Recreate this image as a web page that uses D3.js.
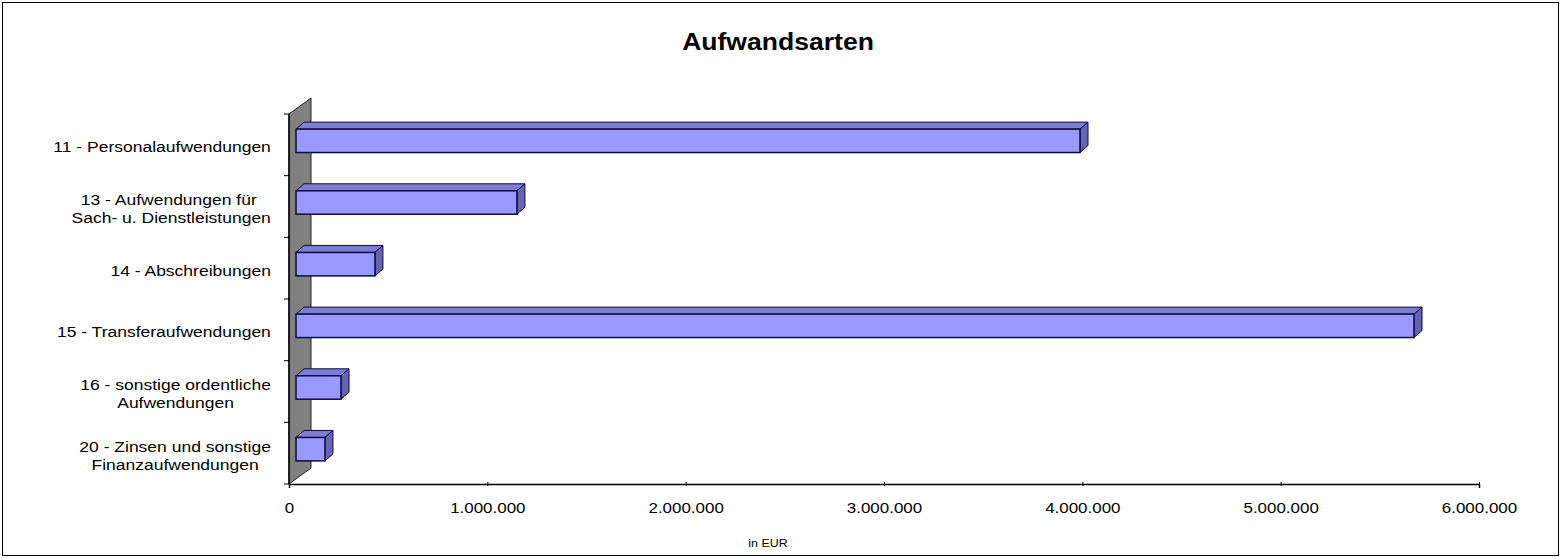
<!DOCTYPE html>
<html>
<head>
<meta charset="utf-8">
<script src="https://cdn.jsdelivr.net/npm/d3@7"></script>
<style>
  body { margin: 0; background: #fff; }
  text { font-family: "Liberation Sans", Arial, sans-serif; fill: #000; }
</style>
</head>
<body>
<svg id="chart" width="1562" height="559"></svg>
<script>
// chart data
var categories = [
    ["11 - Personalaufwendungen"],
    ["13 - Aufwendungen für ", "Sach- u. Dienstleistungen"],
    ["14 - Abschreibungen"],
    ["15 - Transferaufwendungen"],
    ["16 - sonstige ordentliche", "Aufwendungen"],
    ["20 - Zinsen und sonstige", "Finanzaufwendungen"]
];
var values = [3953000, 1114000, 398000, 5637000, 227000, 146000];
var xTicks = [0, 1000000, 2000000, 3000000, 4000000, 5000000, 6000000];

var svg = d3.select("#chart");
var de = d3.formatLocale({decimal: ",", thousands: ".", grouping: [3], currency: ["", " €"]});
var fmt = de.format(",");
// the original text is a bit wider than Arial
var sx = 1.13;

// outer frame
svg.append("rect")
    .attr("x", 2.5).attr("y", 2.5)
    .attr("width", 1556).attr("height", 553)
    .attr("fill", "#fff")
    .attr("stroke", "#000")
    .attr("stroke-width", 1);

// title
svg.append("text")
    .attr("transform", "translate(778,50) scale(" + sx + ",1)")
    .attr("text-anchor", "middle")
    .style("font-size", "23.5px")
    .style("font-weight", "bold")
    .text("Aufwandsarten");

// scales
var keys = categories.map(function(d, i) { return i; });
var x = d3.scaleLinear().domain([0, 6000000]).range([289, 1479]);
var yAxisBand = d3.scaleBand().domain(keys).range([114, 484]);
var y = d3.scaleBand().domain(keys).range([114, 484])
    .paddingInner(0.62).paddingOuter(0.31);

// 3d offsets
var wallDx = 22, wallDy = -16;
var barOx = 7, barOy = -4;
var depthX = 8, depthY = -7;

// back wall (grey)
svg.append("polygon")
    .attr("points", [
        [x(0), 484], [x(0), 114], [x(0) + wallDx, 114 + wallDy], [x(0) + wallDx, 484 + wallDy]
    ].join(" "))
    .attr("fill", "#808080")
    .attr("stroke", "#222")
    .attr("stroke-width", 1);

// y axis line + ticks at band boundaries
var yTickPos = keys.map(function(k) { return yAxisBand(k); }).concat([484]);
svg.append("line")
    .attr("x1", x(0)).attr("x2", x(0))
    .attr("y1", 114).attr("y2", 484)
    .attr("stroke", "#000").attr("stroke-width", 1.5);
svg.selectAll(".ytick").data(yTickPos).enter().append("line")
    .attr("class", "ytick")
    .attr("x1", x(0) - 5).attr("x2", x(0))
    .attr("y1", function(d) { return d; })
    .attr("y2", function(d) { return d; })
    .attr("stroke", "#000");

// x axis
var xAxis = d3.axisBottom(x).tickValues(xTicks).tickFormat(fmt).tickSize(4).tickPadding(14);
var gX = svg.append("g").attr("transform", "translate(0,484)").call(xAxis);
gX.select(".domain").attr("stroke", "#000").attr("stroke-width", 1.5);
gX.selectAll(".tick line").attr("stroke", "#000").attr("transform", "translate(0,-2)");
gX.selectAll(".tick text")
    .style("font-size", "15px")
    .attr("fill", "#000")
    .attr("transform", "scale(" + sx + ",1)");

svg.append("text")
    .attr("transform", "translate(768,547) scale(" + sx + ",1)")
    .attr("text-anchor", "middle")
    .style("font-size", "11px")
    .text("in EUR");

// bars
var bars = svg.selectAll(".bar").data(values).enter().append("g").attr("class", "bar");
bars.each(function(v, i) {
    var g = d3.select(this);
    var xl = x(0) + barOx, xr = x(v) + barOx;
    var yt = y(i) + barOy, yb = yt + y.bandwidth();
    // top face
    g.append("polygon")
        .attr("points", [[xl, yt], [xl + depthX, yt + depthY], [xr + depthX, yt + depthY], [xr, yt]].join(" "))
        .attr("fill", "#7d7dd6").attr("stroke", "#0d0d40").attr("stroke-width", 1)
        .attr("stroke-linejoin", "round");
    // side face
    g.append("polygon")
        .attr("points", [[xr, yt], [xr + depthX, yt + depthY], [xr + depthX, yb + depthY], [xr, yb]].join(" "))
        .attr("fill", "#6464b0").attr("stroke", "#0d0d40").attr("stroke-width", 1)
        .attr("stroke-linejoin", "round");
    // front face
    g.append("rect")
        .attr("x", xl).attr("y", yt)
        .attr("width", xr - xl).attr("height", yb - yt)
        .attr("fill", "#9999ff").attr("stroke", "#0d0d40").attr("stroke-width", 1.5);
});

// category labels, centred block, right edge at 271
var labels = svg.selectAll(".cat").data(categories).enter().append("text")
    .attr("class", "cat")
    .style("font-size", "15.5px")
    .attr("text-anchor", "middle");
labels.each(function(lines, i) {
    var t = d3.select(this);
    var cy = yAxisBand(i) + yAxisBand.bandwidth() / 2;
    var y0 = cy + 7.5 - (lines.length - 1) * 9;
    lines.forEach(function(l, j) {
        t.append("tspan").attr("x", 0).attr("y", y0 + j * 18).text(l);
    });
    var w = 0;
    t.selectAll("tspan").each(function() { w = Math.max(w, this.getComputedTextLength()); });
    t.attr("transform", "translate(" + (271 - w * sx / 2) + ",0) scale(" + sx + ",1)");
});
</script>
</body>
</html>
